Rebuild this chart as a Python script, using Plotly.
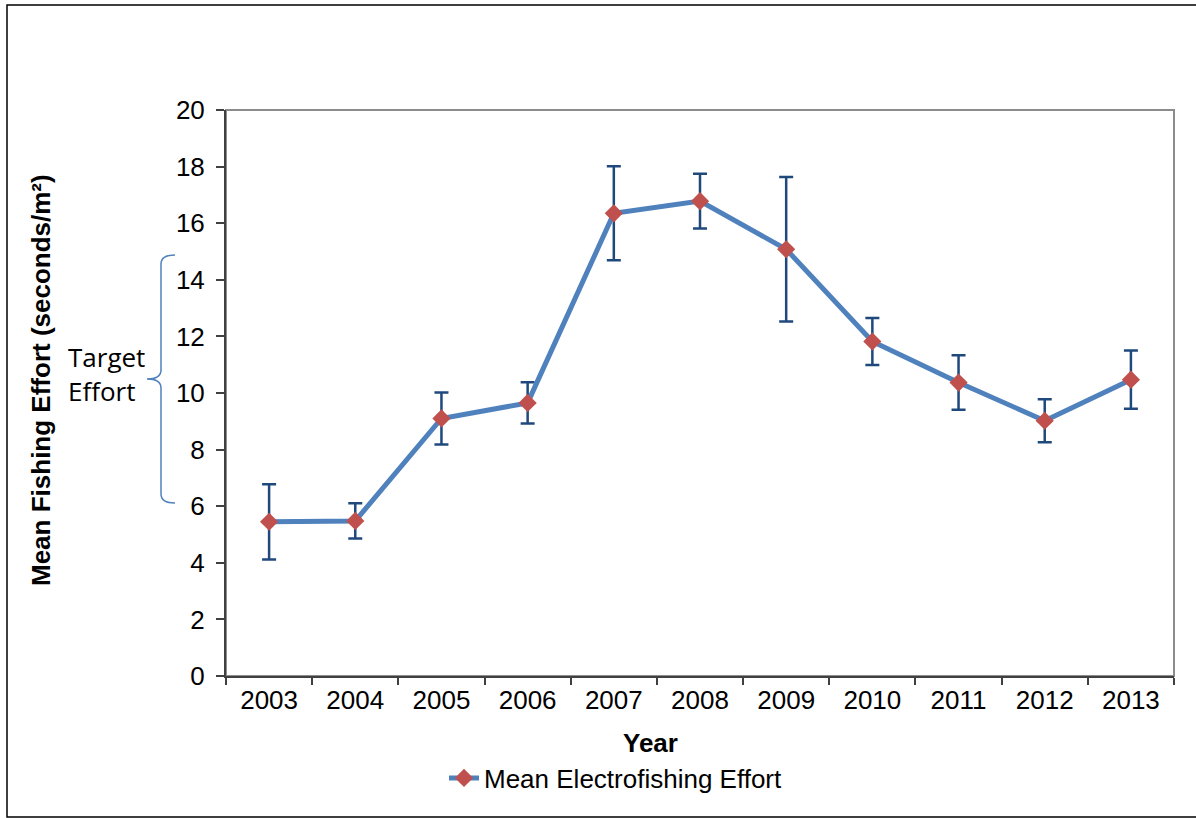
import plotly.graph_objects as go

# Mean electrofishing effort by year, with error bar half-widths
years = ["2003", "2004", "2005", "2006", "2007", "2008", "2009", "2010", "2011", "2012", "2013"]
mean_effort = [5.45, 5.48, 9.1, 9.65, 16.35, 16.78, 15.08, 11.82, 10.37, 9.02, 10.47]
effort_err = [1.33, 0.62, 0.92, 0.73, 1.66, 0.97, 2.55, 0.83, 0.96, 0.76, 1.03]
y_ticks = [0, 2, 4, 6, 8, 10, 12, 14, 16, 18, 20]

W, H = 1196, 818
L, T, R, B = 226, 110, 1174, 676


def fx(p):
    return (p - L) / (R - L)


def fy(p):
    return (B - p) / (B - T)


FONT = "Liberation Sans"
FS = 26

fig = go.Figure()
fig.add_trace(go.Scatter(
    x=years, y=mean_effort,
    mode="lines+markers",
    name="Mean Electrofishing Effort",
    line=dict(color="#4F81BD", width=5),
    marker=dict(symbol="diamond", color="#C0504D", size=14),
    error_y=dict(type="data", array=effort_err, visible=True,
                 color="#1F497D", thickness=2.5, width=7),
))

shapes = [
    # outer frame
    dict(type="rect", xref="paper", yref="paper",
         x0=fx(7), x1=fx(1205), y0=fy(817), y1=fy(5),
         line=dict(color="black", width=1.5), layer="below"),
    # plot area border
    dict(type="rect", xref="paper", yref="paper",
         x0=0, x1=1, y0=0, y1=1,
         line=dict(color="#8C8C8C", width=2), layer="below"),
    # target effort brace
    dict(type="path", xref="paper", yref="paper",
         path=(f"M {fx(175)},{fy(255)} Q {fx(161)},{fy(255)} {fx(161)},{fy(264)} "
               f"L {fx(161)},{fy(370)} Q {fx(161)},{fy(379)} {fx(147)},{fy(379)} "
               f"Q {fx(161)},{fy(379)} {fx(161)},{fy(388)} "
               f"L {fx(161)},{fy(494)} Q {fx(161)},{fy(503)} {fx(175)},{fy(503)}"),
         line=dict(color="#4F81BD", width=1.5)),
]

annotations = [
    dict(text="Target<br>Effort", xref="paper", yref="paper",
         x=fx(66), y=fy(374), xanchor="left", yanchor="middle", align="left",
         showarrow=False, font=dict(family="Open Sans", size=26, color="black")),
    dict(text="Mean Fishing Effort (seconds/m²)", xref="paper", yref="paper",
         x=fx(41), y=fy(380), xanchor="center", yanchor="middle", textangle=-90,
         showarrow=False, font=dict(family=FONT, size=FS, color="black", weight="bold")),
    dict(text="Year", xref="paper", yref="paper",
         x=fx(650), y=fy(743), xanchor="center", yanchor="middle",
         showarrow=False, font=dict(family=FONT, size=FS, color="black", weight="bold")),
]

fig.update_layout(
    width=W, height=H,
    margin=dict(l=L, r=W - R, t=T, b=H - B),
    paper_bgcolor="white", plot_bgcolor="white",
    font=dict(family=FONT, size=FS, color="black"),
    showlegend=True,
    legend=dict(orientation="h", x=fx(444), y=fy(778), xanchor="left", yanchor="middle",
                font=dict(family=FONT, size=FS, color="black"),
                bgcolor="rgba(0,0,0,0)"),
    shapes=shapes,
    annotations=annotations,
    xaxis=dict(type="category", range=[-0.5, 10.5], tickson="boundaries",
               ticks="outside", ticklen=7, tickcolor="#404040", tickwidth=1.5,
               showline=True, linecolor="#404040", linewidth=2,
               showgrid=False, zeroline=False,
               tickfont=dict(family=FONT, size=FS, color="black")),
    yaxis=dict(range=[0, 20], tickvals=y_ticks,
               ticks="outside", ticklen=8, tickcolor="#404040", tickwidth=1.5,
               showline=True, linecolor="#404040", linewidth=2,
               showgrid=False, zeroline=False, ticklabelstandoff=6,
               tickfont=dict(family=FONT, size=FS, color="black")),
)

fig.write_html("out.html")
